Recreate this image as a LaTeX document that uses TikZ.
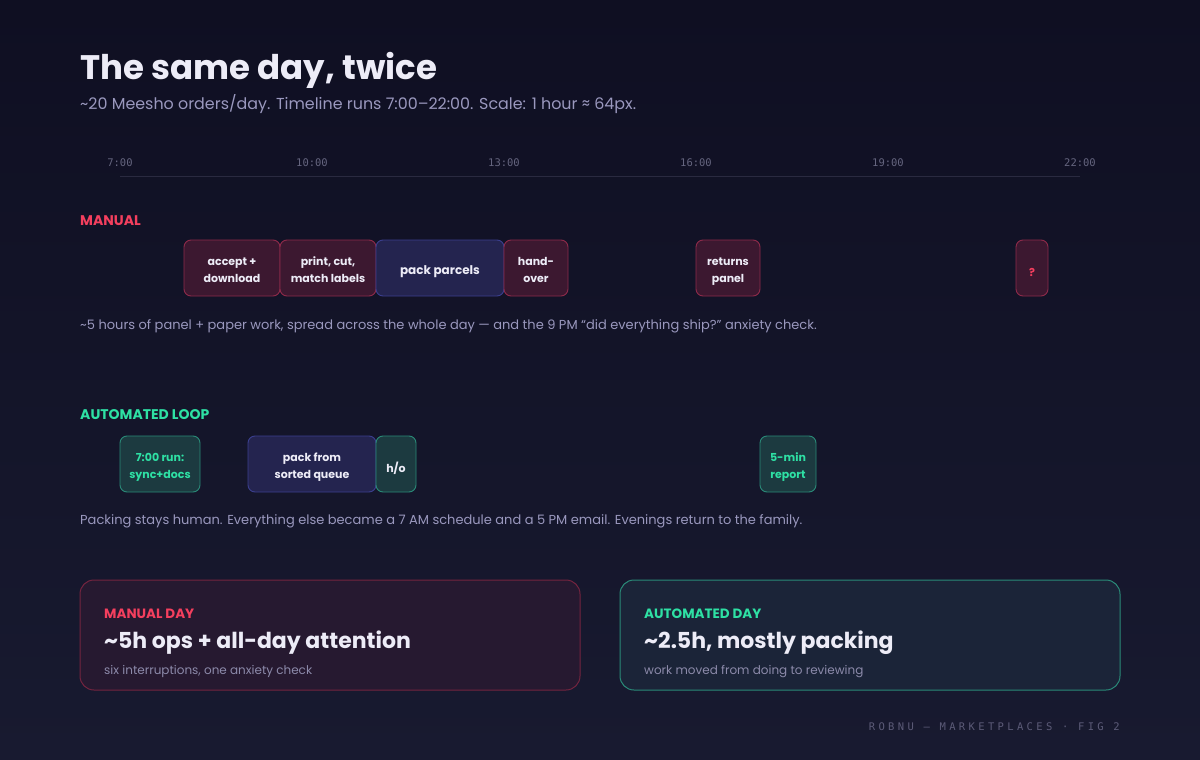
\documentclass[tikz,border=0pt]{standalone}
\usepackage{fontspec}
\setmainfont{Poppins}
\newfontfamily\monof{DejaVu Sans Mono}
\newfontfamily\monofs[LetterSpace=32]{DejaVu Sans Mono}
\definecolor{bgtop}{HTML}{0F0F22}
\definecolor{bgbot}{HTML}{181A30}
\definecolor{titlec}{HTML}{EDECF7}
\definecolor{subc}{HTML}{9A98BE}
\definecolor{tickc}{HTML}{65657F}
\definecolor{axisc}{HTML}{2A2A40}
\definecolor{rose}{HTML}{F43F5E}
\definecolor{mint}{HTML}{2EE0A4}
\definecolor{redfill}{HTML}{3C1830}
\definecolor{redline}{HTML}{8E2A4A}
\definecolor{bluefill}{HTML}{24244F}
\definecolor{blueline}{HTML}{3B3F8E}
\definecolor{tealfill}{HTML}{1C3A40}
\definecolor{tealline}{HTML}{2A8A78}
\definecolor{card1fill}{HTML}{261930}
\definecolor{card1line}{HTML}{74243F}
\definecolor{card2fill}{HTML}{1B2438}
\definecolor{card2line}{HTML}{2A8A78}
\definecolor{cardsub}{HTML}{8C8AAA}
\definecolor{footc}{HTML}{5C5B78}
\newcommand\twoline[1]{\raisebox{-3pt}[\height][\depth]{\begin{tabular}{@{}c@{}}#1\end{tabular}}}
\newcommand\oneline[1]{\raisebox{-4pt}[\height][\depth]{#1}}
\tikzset{
  task/.style={draw, rounded corners=7pt, line width=0.9pt, inner sep=0pt,
    minimum height=56pt, text=titlec, font=\bfseries\fontsize{11}{17}\selectfont},
  redtask/.style={task, fill=redfill, draw=redline},
  bluetask/.style={task, fill=bluefill, draw=blueline},
  tealtask/.style={task, fill=tealfill, draw=tealline},
  tick/.style={text=tickc, font=\monof\fontsize{10.5}{12}\selectfont},
  note/.style={anchor=west, text=subc, font=\fontsize{13}{15}\selectfont},
  lanelabel/.style={anchor=west, font=\bfseries\fontsize{14}{16}\selectfont},
  card/.style={rounded corners=14pt, line width=1pt, minimum width=500pt, minimum height=110pt},
  cardkicker/.style={anchor=base west, font=\bfseries\fontsize{13.5}{15}\selectfont},
  cardtitle/.style={anchor=base west, text=titlec, font=\bfseries\fontsize{22}{24}\selectfont},
  cardsubt/.style={anchor=base west, text=cardsub, font=\fontsize{12}{14}\selectfont},
}
\begin{document}
\begin{tikzpicture}[x=1pt,y=-1pt]
\shade[top color=bgtop, bottom color=bgbot] (0,0) rectangle (1200,760);
\useasboundingbox (0,0) rectangle (1200,760);

% title
\node[anchor=base west, text=titlec, inner sep=0pt, font=\bfseries\fontsize{34}{38}\selectfont] (title) at (80,80) {The same day, twice};
\node[anchor=base west, text=subc, inner sep=0pt, font=\fontsize{15.9}{18}\selectfont] (subtitle) at (80,110) {\char"007E 20 Meesho orders/day. Timeline runs 7:00\textendash 22:00. Scale: 1 hour \char"2248\ 64px.};

% axis
\node[tick] (t7) at (120,163) {7:00};
\node[tick] (t10) at (312,163) {10:00};
\node[tick] (t13) at (504,163) {13:00};
\node[tick] (t16) at (696,163) {16:00};
\node[tick] (t19) at (888,163) {19:00};
\node[tick] (t22) at (1080,163) {22:00};
\coordinate (axL) at (120,176);
\coordinate (axR) at (1080,176);
\draw[axisc, line width=1pt] (axL) -- (axR);

% manual lane
\node[lanelabel, text=rose, inner sep=0pt] (manual) at (80,221) {MANUAL};
\node[redtask, minimum width=96pt] (m1) at (232,268) {\twoline{accept +\\download}};
\node[redtask, minimum width=96pt] (m2) at (328,268) {\twoline{print, cut,\\match labels}};
\node[bluetask, minimum width=128pt, font=\bfseries\fontsize{12}{17}\selectfont] (m3) at (440,268) {\oneline{pack parcels}};
\node[redtask, minimum width=64pt] (m4) at (536,268) {\twoline{hand-\\over}};
\node[redtask, minimum width=64pt] (m5) at (728,268) {\twoline{returns\\panel}};
\node[redtask, minimum width=32pt, text=rose] (m6) at (1032,268) {\oneline{?}};
\node[note, inner sep=0pt] (mnote) at (80,326) {\char"007E 5 hours of panel + paper work, spread across the whole day \textemdash\ and the 9 PM \textquotedblleft did everything ship?\textquotedblright\ anxiety check.};

% automated lane
\node[lanelabel, text=mint, inner sep=0pt] (auto) at (80,415) {AUTOMATED LOOP};
\node[tealtask, minimum width=80pt, text=mint] (a1) at (160,464) {\twoline{7:00 run:\\sync+docs}};
\node[bluetask, minimum width=128pt] (a2) at (312,464) {\twoline{pack from\\sorted queue}};
\node[tealtask, minimum width=40pt] (a3) at (396,464) {\oneline{h/o}};
\node[tealtask, minimum width=56pt, text=mint] (a4) at (788,464) {\twoline{5-min\\report}};
\node[note, inner sep=0pt] (anote) at (80,521) {Packing stays human. Everything else became a 7 AM schedule and a 5 PM email. Evenings return to the family.};

% cards
\node[card, fill=card1fill, draw=card1line] (c1) at (330,635) {};
\node[cardkicker, text=rose, inner sep=0pt] (c1k) at (104,618) {MANUAL DAY};
\node[cardtitle, inner sep=0pt] (c1t) at (104,648) {\char"007E 5h ops + all-day attention};
\node[cardsubt, inner sep=0pt] (c1s) at (104,674) {six interruptions, one anxiety check};

\node[card, fill=card2fill, draw=card2line] (c2) at (870,635) {};
\node[cardkicker, text=mint, inner sep=0pt] (c2k) at (644,618) {AUTOMATED DAY};
\node[cardtitle, inner sep=0pt] (c2t) at (644,648) {\char"007E 2.5h, mostly packing};
\node[cardsubt, inner sep=0pt] (c2s) at (644,674) {work moved from doing to reviewing};

% footer
\node[anchor=base east, text=footc, inner sep=0pt, font=\monofs\fontsize{10.5}{12}\selectfont] (foot) at (1120,730) {ROBNU \textemdash\ MARKETPLACES \textperiodcentered\ FIG 2};
\end{tikzpicture}
\end{document}
